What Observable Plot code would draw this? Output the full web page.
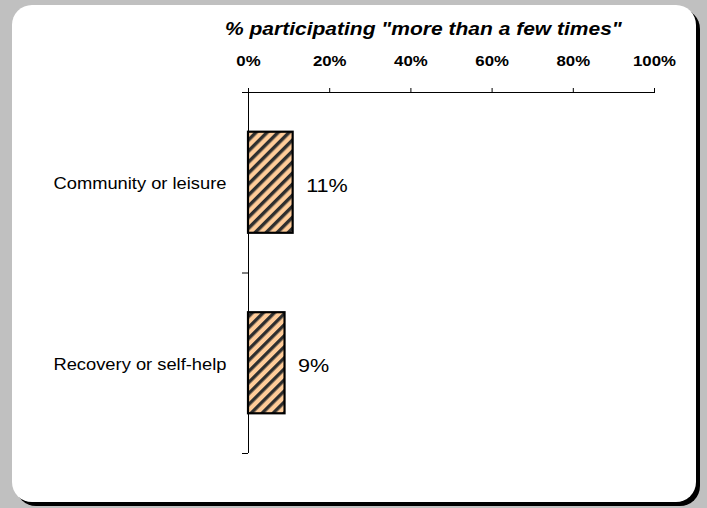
<!DOCTYPE html>
<html>
<head>
<meta charset="utf-8">
<script src="https://cdn.jsdelivr.net/npm/d3@7"></script>
<script src="https://cdn.jsdelivr.net/npm/@observablehq/plot@0.6"></script>
<style>
  html, body { margin: 0; padding: 0; }
  body {
    width: 707px; height: 508px; overflow: hidden; position: relative;
    background: #c0c0c0;
    font-family: "Liberation Sans", Arial, sans-serif;
  }
  #card {
    position: absolute; left: 12px; top: 5px; width: 684px; height: 497px;
    background: #fff; border-radius: 20px; box-shadow: 4px 4px 0 #000;
  }
  #title {
    position: absolute; left: 225px; top: 21px;
    font-size: 17.5px; line-height: 17.5px; font-weight: bold; font-style: italic;
    white-space: nowrap; color: #000;
    transform: scaleX(1.2); transform-origin: 0 0;
  }
  #chart { position: absolute; left: 0; top: 0; }
</style>
</head>
<body>
<div id="card"></div>
<div id="title"></div>
<div id="chart"></div>
<script>
const title = '% participating "more than a few times"';
const categories = ["Community or leisure", "Recovery or self-help"];
const values = [11, 9];
const xTicks = [0, 20, 40, 60, 80, 100];

const rows = categories.map((category, index) => ({category, index, value: values[index]}));

document.getElementById("title").textContent = title;

// each category occupies one unit of the vertical scale; the bar fills its middle
const barInset = 0.22;

const svg = Plot.plot({
  width: 707,
  height: 508,
  marginLeft: 248,
  marginRight: 53,
  marginTop: 92,
  marginBottom: 55,
  x: {domain: [0, 100]},
  y: {domain: [categories.length, 0]},
  style: {background: "transparent", fontFamily: "'Liberation Sans', Arial, sans-serif", color: "#000"},
  marks: [
    Plot.rect(rows, {
      x1: () => 0,
      x2: "value",
      y1: d => d.index + barInset,
      y2: d => d.index + 1 - barInset,
      fill: "url(#hatch)",
      stroke: "#000",
      strokeWidth: 2.2
    }),
    Plot.ruleX([0], {stroke: "#000"}),
    Plot.ruleY([0], {stroke: "#000"}),
    Plot.axisX({
      anchor: "top",
      ticks: xTicks,
      tickFormat: d => d + "%",
      tickSize: 5,
      tickPadding: 22,
      fontSize: 15,
      fontWeight: "bold",
      label: null
    }),
    Plot.axisY({
      anchor: "left",
      ticks: d3.range(categories.length + 1),
      tickFormat: () => "",
      tickSize: 6,
      label: null
    }),
    Plot.text(rows, {
      x: () => 0,
      y: d => d.index + 0.5,
      text: "category",
      textAnchor: "end",
      dx: -22,
      dy: 1,
      fontSize: 16.5
    }),
    Plot.text(rows, {
      x: "value",
      y: d => d.index + 0.5,
      text: d => d.value + "%",
      textAnchor: "start",
      dx: 13,
      dy: 3,
      fontSize: 18
    })
  ]
});

// diagonal hatch used by the bars
svg.insertAdjacentHTML("afterbegin", `
  <defs>
    <pattern id="hatch" patternUnits="userSpaceOnUse" width="7.8" height="7.8" patternTransform="rotate(45)">
      <rect width="7.8" height="7.8" fill="#ffcc99"></rect>
      <rect x="0" y="0" width="3.4" height="7.8" fill="#2e2e2e"></rect>
    </pattern>
  </defs>`);

document.getElementById("chart").appendChild(svg);

// widen the lettering a little horizontally
function stretch(nodes, k) {
  for (const t of nodes) {
    const w = t.getComputedTextLength();
    if (w > 0) {
      t.setAttribute("textLength", w * k);
      t.setAttribute("lengthAdjust", "spacingAndGlyphs");
    }
  }
}
stretch(svg.querySelectorAll('g[aria-label="x-axis tick label"] text'), 1.12);
const textGroups = svg.querySelectorAll('g[aria-label="text"]');
if (textGroups[0]) stretch(textGroups[0].querySelectorAll("text"), 1.11);
if (textGroups[1]) stretch(textGroups[1].querySelectorAll("text"), 1.2);
</script>
</body>
</html>
